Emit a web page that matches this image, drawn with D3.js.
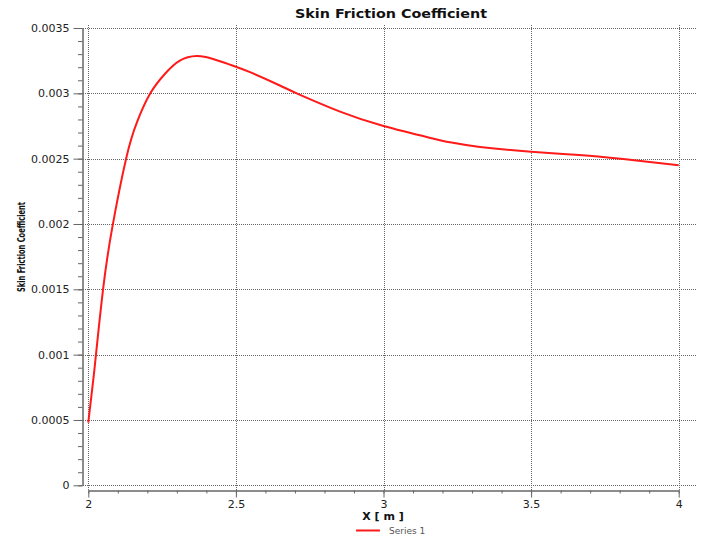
<!DOCTYPE html>
<html>
<head>
<meta charset="utf-8">
<script src="https://cdn.jsdelivr.net/npm/d3@7"></script>
<style>
  body { margin: 0; background: #fff; }
  text { font-family: "DejaVu Sans", Verdana, sans-serif; }
  .grid line { stroke: #666; stroke-width: 1; stroke-dasharray: 1,1; }
  .axis path, .axis line { stroke: #666; }
  .axis text { font-size: 11px; fill: #222; }
</style>
</head>
<body>
<div id="plot"></div>
<script>
// Skin friction along the wall
var xValues = [2.0, 2.005, 2.017, 2.026, 2.05, 2.081, 2.128, 2.165, 2.21, 2.26, 2.31, 2.367, 2.42, 2.48, 2.55, 2.649, 2.706, 2.853, 3.0, 3.157, 3.225, 3.327, 3.5, 3.65, 3.812, 4.0];
var cfValues = [0.00048, 0.00058, 0.00081, 0.00100, 0.00150, 0.00197, 0.00250, 0.00278, 0.00300, 0.00315, 0.00325, 0.003285, 0.003265, 0.00322, 0.00316, 0.00306, 0.00300, 0.00286, 0.00275, 0.00266, 0.002625, 0.00259, 0.002553, 0.00253, 0.002497, 0.00245];

var xTicks = [2, 2.5, 3, 3.5, 4];
var yTicks = [0, 0.0005, 0.001, 0.0015, 0.002, 0.0025, 0.003, 0.0035];
var xMinor = d3.range(2, 4.001, 0.1);
var yMinor = d3.range(0, 0.003501, 0.0001);

var svgWidth = 701;
var svgHeight = 537;

var svg = d3.select("#plot")
  .append("svg")
  .attr("width", svgWidth)
  .attr("height", svgHeight);

var x = d3.scaleLinear().domain([2, 4]).range([88.3, 678.7]);
var y = d3.scaleLinear().domain([0, 0.0035]).range([485.3, 28]);

// grid
var grid = svg.append("g").attr("class", "grid");
grid.selectAll(".h").data(yTicks).enter().append("line")
  .attr("x1", 83).attr("x2", 697)
  .attr("y1", d => Math.round(y(d)) + 0.5).attr("y2", d => Math.round(y(d)) + 0.5);
grid.selectAll(".v").data(xTicks).enter().append("line")
  .attr("y1", 25).attr("y2", 490)
  .attr("x1", d => Math.round(x(d)) + 0.5).attr("x2", d => Math.round(x(d)) + 0.5);

// minor ticks
svg.append("g")
  .attr("class", "axis")
  .attr("transform", "translate(82.5,0)")
  .call(d3.axisLeft(y).tickValues(yMinor).tickSize(4.5).tickSizeOuter(0).tickFormat(""));
svg.append("g")
  .attr("class", "axis")
  .attr("transform", "translate(0,490.5)")
  .call(d3.axisBottom(x).tickValues(xMinor).tickSize(3).tickSizeOuter(0).tickFormat(""));

// major ticks
svg.append("g")
  .attr("class", "axis")
  .attr("transform", "translate(82.5,0)")
  .call(d3.axisLeft(y).tickValues(yTicks).tickSize(9).tickPadding(4).tickSizeOuter(0).tickFormat(d3.format("")));
svg.append("g")
  .attr("class", "axis")
  .attr("transform", "translate(0,490.5)")
  .call(d3.axisBottom(x).tickValues(xTicks).tickSize(7).tickPadding(3).tickSizeOuter(0).tickFormat(d3.format("")));

// curve
var line = d3.line()
  .x((d, i) => x(xValues[i]))
  .y(d => y(d))
  .curve(d3.curveNatural);

svg.append("path")
  .datum(cfValues)
  .attr("d", line)
  .attr("fill", "none")
  .attr("stroke", "#ff1a1a")
  .attr("stroke-width", 2);

// titles
svg.append("text")
  .attr("x", 391).attr("y", 18)
  .attr("text-anchor", "middle")
  .attr("font-size", "12px").attr("font-weight", "bold")
  .attr("textLength", 192).attr("lengthAdjust", "spacingAndGlyphs")
  .attr("fill", "#111")
  .text("Skin Friction Coefficient");

svg.append("text")
  .attr("transform", "translate(25,247) rotate(-90)")
  .attr("text-anchor", "middle")
  .attr("font-size", "11px").attr("font-weight", "bold")
  .attr("textLength", 90).attr("lengthAdjust", "spacingAndGlyphs")
  .attr("fill", "#111")
  .text("Skin Friction Coefficient");

svg.append("text")
  .attr("x", 383).attr("y", 520)
  .attr("text-anchor", "middle")
  .attr("font-size", "11px").attr("font-weight", "bold")
  .attr("fill", "#111")
  .text("X [ m ]");

// legend
svg.append("line")
  .attr("x1", 356).attr("x2", 380)
  .attr("y1", 530.5).attr("y2", 530.5)
  .attr("stroke", "#ff1a1a").attr("stroke-width", 2);
svg.append("text")
  .attr("x", 389).attr("y", 534)
  .attr("font-size", "9px")
  .attr("fill", "#555")
  .text("Series 1");
</script>
</body>
</html>
